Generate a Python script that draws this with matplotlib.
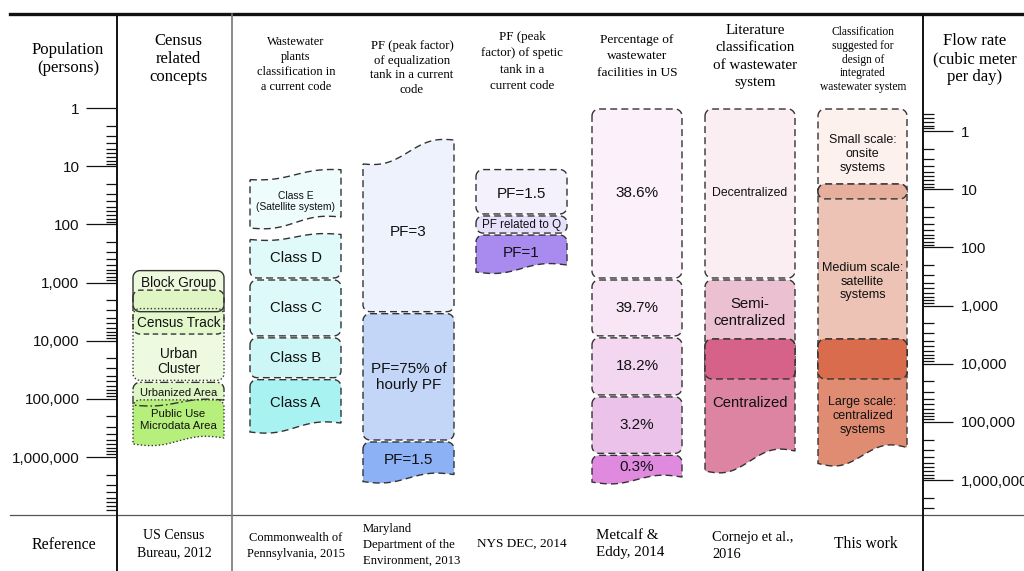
import numpy as np
import matplotlib
matplotlib.use("Agg")
import matplotlib.pyplot as plt
from matplotlib.patches import Polygon
from matplotlib.lines import Line2D
from matplotlib.ticker import FixedLocator, FuncFormatter, NullFormatter

# ------------------------------------------------------------------ data
axis_left_title = "Population\n(persons)"
axis_right_title = "Flow rate\n(cubic meter\nper day)"
row_title = "Reference"

column_titles = [
    "Census\nrelated\nconcepts",
    "Wastewater\nplants\nclassification in\na current code",
    "PF (peak factor)\nof equalization\ntank in a current\ncode",
    "PF (peak\nfactor) of spetic\ntank in a\ncurrent code",
    "Percentage of\nwastewater\nfacilities in US",
    "Literature\nclassification\nof wastewater\nsystem",
    "Classification\nsuggested for\ndesign of\nintegrated\nwastewater system",
]
references = [
    "US Census\nBureau, 2012",
    "Commonwealth of\nPennsylvania, 2015",
    "Maryland\nDepartment of the\nEnvironment, 2013",
    "NYS DEC, 2014",
    "Metcalf &\nEddy, 2014",
    "Cornejo et al.,\n2016",
    "This work",
]

# population ranges (persons) of every box
census_labels = ["Block Group", "Census Track", "Urban\nCluster", "Urbanized Area", "Public Use\nMicrodata Area"]
census_top = [600, 1300, 2700, 50000, 100000]
census_bottom = [3300, 8000, 50000, 116000, 530000]

plant_labels = ["Class E\n(Satellite system)", "Class D", "Class C", "Class B", "Class A"]
plant_top = [14, 165, 870, 8600, 45000]
plant_bottom = [93, 870, 8600, 45000, 311000]

eq_labels = ["PF=3", "PF=75% of\nhourly PF", "PF=1.5"]
eq_top = [5.7, 3300, 530000]
eq_bottom = [3300, 530000, 2300000]

septic_labels = ["PF=1.5", "PF related to Q", "PF=1"]
septic_top = [11, 69, 147]
septic_bottom = [69, 147, 575]

facility_labels = ["38.6%", "39.7%", "18.2%", "3.2%", "0.3%"]
facility_top = [1, 870, 8600, 89000, 900000]
facility_bottom = [870, 8600, 89000, 900000, 2440000]

lit_labels = ["Decentralized", "Semi-\ncentralized", "Centralized"]
lit_top = [1, 870, 9000]
lit_bottom = [870, 47400, 1170000]

work_labels = ["Small scale:\nonsite\nsystems", "Medium scale:\nsatellite\nsystems",
               "Large scale:\ncentralized\nsystems"]
work_top = [1, 19.5, 9000]
work_bottom = [38, 47400, 940000]

pop_ticks = [1, 10, 100, 1000, 10000, 100000, 1000000]
flow_ticks = [1, 10, 100, 1000, 10000, 100000, 1000000]
flow_per_person = 0.4  # m3 per person per day

# ------------------------------------------------------------------ figure
W, H = 1024, 571
fig = plt.figure(figsize=(W / 100, H / 100), dpi=100)
ax = fig.add_axes([0, 0, 1, 1])
Y1 = 108.0     # pixel row of 1 person
DEC = 58.17    # pixels per decade
ax.set_xlim(0, W)
ax.set_yscale("log")
ax.set_ylim(10 ** ((H - Y1) / DEC), 10 ** ((0 - Y1) / DEC))
for s in ax.spines.values():
    s.set_visible(False)
ax.patch.set_visible(False)
ax.tick_params(axis="x", bottom=False, labelbottom=False)

SANS = ["Liberation Sans", "DejaVu Sans"]
SERIF = ["Liberation Serif", "DejaVu Serif"]

# left axis (population)
ax.spines["left"].set_position(("data", 117))
ax.yaxis.set_major_locator(FixedLocator(pop_ticks))
ax.yaxis.set_major_formatter(FuncFormatter(lambda v, p: f"{v:,.0f}"))
ax.yaxis.set_minor_locator(FixedLocator([k * 10 ** n for n in range(0, 7) for k in range(2, 10)
                                         if k * 10 ** n <= 8e6]))
ax.yaxis.set_minor_formatter(NullFormatter())
ax.tick_params(axis="y", which="major", direction="out", length=22, width=0.9, pad=5,
               labelsize=11, colors="#111111")
ax.tick_params(axis="y", which="minor", direction="out", length=8, width=0.9, colors="#111111")
for lab in ax.get_yticklabels():
    lab.set_family(SANS)

# right axis (flow)
sec = ax.secondary_yaxis(923 / W, functions=(lambda p: p * flow_per_person,
                                             lambda f: f / flow_per_person))
sec.set_ticks(flow_ticks)
sec.set_ticks([k * 10 ** n for n in range(-1, 7) for k in range(2, 10)
               if 0.45 < k * 10 ** n <= 3e6], minor=True)
sec.yaxis.set_major_formatter(FuncFormatter(lambda v, p: f"{v:,.0f}"))
sec.yaxis.set_minor_formatter(NullFormatter())
sec.tick_params(axis="y", which="major", direction="out", length=21.5, width=0.9, pad=6,
                labelsize=10.8, colors="#111111")
sec.tick_params(axis="y", which="minor", direction="out", length=8, width=0.9, colors="#111111")
for s in sec.spines.values():
    s.set_visible(False)
for lab in sec.get_yticklabels():
    lab.set_family(SANS)


def fline(x0, y0, x1, y1, **kw):
    fig.add_artist(Line2D([x0 / W, x1 / W], [1 - y0 / H, 1 - y1 / H],
                          transform=fig.transFigure, **kw))


# table lines
fline(10, 14, W, 14, color="#111111", lw=2.4)
fline(10, 515, W, 515, color="#555555", lw=0.9)
fline(117, 14, 117, H, color="#111111", lw=1.4)
fline(923, 14, 923, H, color="#111111", lw=1.4)
fline(232, 14, 232, H, color="#777777", lw=1.2)


def ftext(x, y, s, **kw):
    fig.text(x / W, 1 - y / H, s, **kw)


# ------------------------------------------------------------------ boxes
def wave(t, spec):
    amp, tilt = spec
    return tilt * (0.5 - t) + amp * np.sin(2 * np.pi * t)


def box_xy(x0, x1, top, bot, top_wave=None, bot_wave=None, r=7.0):
    lt, lb = np.log10(top), np.log10(bot)
    rl = r / DEC
    ins = 1.0 / DEC
    th = np.linspace(0, np.pi / 2, 14)
    pts = []
    if top_wave is not None:
        t = np.linspace(0, 1, 80)
        pts += list(zip(x0 + t * (x1 - x0), lt + wave(t, top_wave) / DEC))
    else:
        lt += ins
        pts += list(zip(x0 + r - r * np.cos(th), lt + rl - rl * np.sin(th)))
        pts += list(zip(x1 - r + r * np.sin(th), lt + rl - rl * np.cos(th)))
    if bot_wave is not None:
        t = np.linspace(1, 0, 80)
        pts += list(zip(x0 + t * (x1 - x0), lb + wave(t, bot_wave) / DEC))
    else:
        lb -= ins
        pts += list(zip(x1 - r + r * np.cos(th), lb - rl + rl * np.sin(th)))
        pts += list(zip(x0 + r - r * np.sin(th), lb - rl + rl * np.cos(th)))
    xy = np.array(pts)
    xy[:, 1] = 10 ** xy[:, 1]
    return xy


DASH = (0, (5, 3))
EC = "#333333"


def draw_column(xr, tops, bots, labels, colors, sizes, waves_top=None, waves_bot=None,
                styles=None, dys=None, lsp=None, alphas=None, fill_first=False, z=2):
    n = len(tops)
    waves_top = waves_top or [None] * n
    waves_bot = waves_bot or [None] * n
    styles = styles or [DASH] * n
    dys = dys or [0] * n
    lsp = lsp or [1.2] * n
    alphas = alphas or [1.0] * n
    polys = [box_xy(xr[0], xr[1], tops[i], bots[i], waves_top[i], waves_bot[i])
             for i in range(n)]
    if fill_first:
        for i in range(n):
            ax.add_patch(Polygon(polys[i], closed=True, facecolor=colors[i], alpha=alphas[i],
                                 edgecolor="none", zorder=z))
        for i in range(n):
            ax.add_patch(Polygon(polys[i], closed=True, facecolor="none", edgecolor=EC,
                                 lw=1.0, linestyle=styles[i], zorder=z + 1))
    else:
        for i in range(n):
            ax.add_patch(Polygon(polys[i], closed=True, facecolor=colors[i], alpha=alphas[i],
                                 edgecolor=EC, lw=1.0, linestyle=styles[i], zorder=z + i * 0.01))
    for i in range(n):
        c = 10 ** ((np.log10(tops[i]) + np.log10(bots[i])) / 2 + dys[i] / DEC)
        ax.text((xr[0] + xr[1]) / 2, c, labels[i], ha="center", va="center",
                fontsize=sizes[i], family=SANS, color="#111111", linespacing=lsp[i],
                zorder=z + 3)


def draw_overlap(xr, a_top, a_bot, b_top, b_bot, color, z=3):
    top, bot = max(a_top, b_top), min(a_bot, b_bot)
    ax.add_patch(Polygon(box_xy(xr[0], xr[1], top, bot), closed=True, facecolor=color,
                         edgecolor=EC, lw=1.0, linestyle=DASH, zorder=z))


cols_x = [(133, 224), (250, 341), (363, 454), (476, 567), (592, 682), (705, 795), (818, 907)]

# census
draw_column(cols_x[0], census_top, census_bottom, census_labels,
            colors=["#dcf5bd", "#d3f2ac", "#e0f7c8", "#c9f09c", "#b7ef7c"],
            alphas=[0.5, 0.5, 0.55, 0.6, 1.0],
            sizes=[9.8, 9.8, 9.8, 8.0, 8.2],
            waves_bot=[None, None, None, (2, 5), (3, 6)],
            styles=["-", (0, (4, 2.5)), (0, (1, 1.6)), (0, (6, 2, 1.2, 2)), (0, (1, 1.6))],
            dys=[-8, 11, 17, 1, 0], lsp=[1.2, 1.2, 1.15, 1.2, 1.15], fill_first=True)

# wastewater plant classes
draw_column(cols_x[1], plant_top, plant_bottom, plant_labels,
            colors=["#effcfc", "#e0f9f9", "#def9f9", "#cdf6f6", "#a9f2f2"],
            sizes=[7.4, 10.7, 10.7, 10.7, 10.7],
            waves_top=[(2, 10), (2, 5), None, None, None],
            waves_bot=[(3, 11), None, None, None, (3, 9)],
            dys=[3, 0, 0, 0, 0], lsp=[1.05, 1.2, 1.2, 1.2, 1.2])

# equalization tank PF
draw_column(cols_x[2], eq_top, eq_bottom, eq_labels,
            colors=["#eef2fd", "#c3d6f8", "#8cb1f5"],
            sizes=[11, 11, 11],
            waves_top=[(5, 24), None, None],
            waves_bot=[None, None, (3, 7)],
            lsp=[1.2, 1.2, 1.2])

# septic tank PF
draw_column(cols_x[3], septic_top, septic_bottom, septic_labels,
            colors=["#f4f1fd", "#e7e0fa", "#a98bf0"],
            sizes=[11, 8.4, 11],
            waves_bot=[None, None, (3, 7)],
            dys=[2, 0, 2])

# percentage of facilities
draw_column(cols_x[4], facility_top, facility_bottom, facility_labels,
            colors=["#fcf0fa", "#f8e5f5", "#f3d6f0", "#ebc2ea", "#df89df"],
            sizes=[11] * 5,
            waves_bot=[None, None, None, None, (3, 5)])

# literature classification
draw_column(cols_x[5], lit_top, lit_bottom, lit_labels,
            colors=["#fbeef3", "#ebc0d0", "#dc84a2"],
            sizes=[8.8, 10.7, 10.7],
            waves_bot=[None, None, (6, 20)],
            dys=[0, -17, 3], lsp=[1.2, 1.35, 1.2])
draw_overlap(cols_x[5], lit_top[1], lit_bottom[1], lit_top[2], lit_bottom[2], "#d6628a")

# this work
draw_column(cols_x[6], work_top, work_bottom, work_labels,
            colors=["#fcf1ed", "#ecc3b5", "#df8c72"],
            sizes=[9, 9.1, 9],
            waves_bot=[None, None, (6, 16)],
            dys=[0, 0, 19], lsp=[1.22, 1.22, 1.22])
draw_overlap(cols_x[6], work_top[0], work_bottom[0], work_top[1], work_bottom[1], "#e5ae9d")
draw_overlap(cols_x[6], work_top[1], work_bottom[1], work_top[2], work_bottom[2], "#d86c4d")

# ------------------------------------------------------------------ header / reference text
ftext(68, 59, axis_left_title, ha="center", va="center", fontsize=12, family=SERIF,
      linespacing=1.2)
ftext(975, 59, axis_right_title, ha="center", va="center", fontsize=12, family=SERIF,
      linespacing=1.2)
ftext(64, 545, row_title, ha="center", va="center", fontsize=11.4, family=SERIF)

head_style = [  # x, y, size, linespacing
    (178, 59, 12, 1.2),
    (296, 64.5, 8.9, 1.31),
    (412, 68, 9.2, 1.3),
    (522, 61.5, 9.4, 1.5),
    (637, 56, 9.6, 1.5),
    (755, 56.5, 10.8, 1.42),
    (863, 59.5, 8.3, 1.2),
]
for title, (x, y, fs, ls) in zip(column_titles, head_style):
    ftext(x, y, title, ha="center", va="center", fontsize=fs, family=SERIF, linespacing=ls)

ref_style = [  # x, y, size, linespacing, ha
    (174, 544, 10, 1.4, "center"),
    (296, 546, 9, 1.55, "center"),
    (363, 545, 9.1, 1.43, "left"),
    (522, 544, 9.5, 1.2, "center"),
    (596, 544, 10.8, 1.45, "left"),
    (712, 546, 10.4, 1.5, "left"),
    (866, 544, 11.2, 1.2, "center"),
]
for ref, (x, y, fs, ls, ha) in zip(references, ref_style):
    ftext(x, y, ref, ha=ha, va="center", fontsize=fs, family=SERIF, linespacing=ls)

fig.savefig("out.png", dpi=100)
